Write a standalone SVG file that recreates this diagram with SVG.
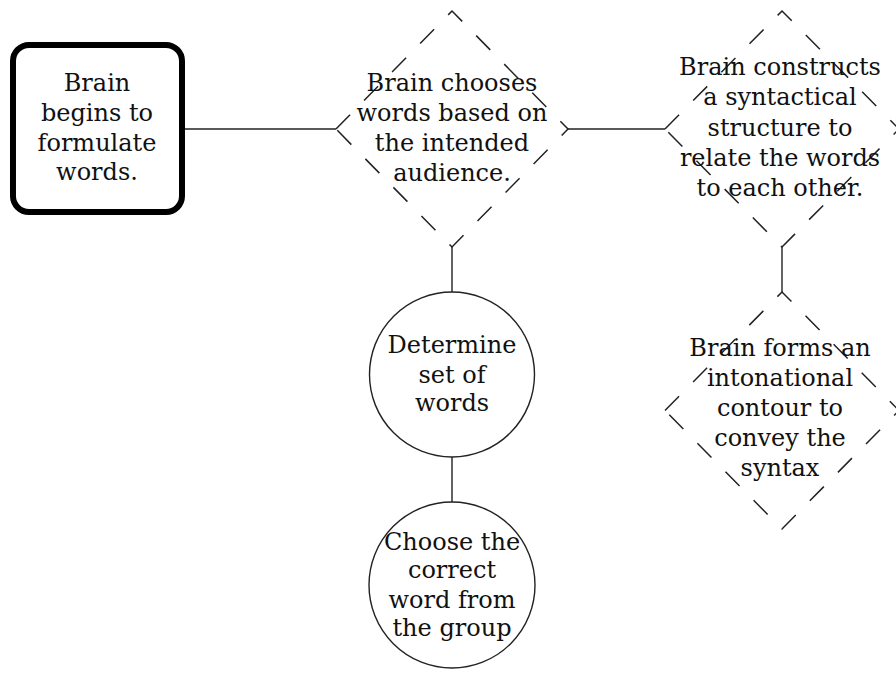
<svg xmlns="http://www.w3.org/2000/svg" width="896" height="673" viewBox="0 0 896 673">
<style>
.t{font-family:"DejaVu Serif","Liberation Serif",serif;font-size:24px;fill:#111;text-anchor:middle}
.dia{fill:none;stroke:#222;stroke-width:1.5;stroke-dasharray:20 20}
.circ{fill:#fff;stroke:#222;stroke-width:1.4}
.box{fill:#fff;stroke:#000;stroke-width:6}
.con line{stroke:#222;stroke-width:1.4}
</style>
<rect width="896" height="673" fill="#fff"/>
<g class="con">
<line x1="185" y1="129" x2="336" y2="129"/>
<line x1="568" y1="129" x2="665" y2="129"/>
<line x1="452" y1="247" x2="452" y2="292"/>
<line x1="452" y1="457" x2="452" y2="502"/>
<line x1="782" y1="247" x2="782" y2="292"/>
</g>
<g id="n1">
<rect class="box" x="13" y="45" width="169" height="167" rx="16"/>
<text class="t"><tspan x="97" y="91">Brain</tspan><tspan x="97" y="121">begins to</tspan><tspan x="97" y="151">formulate</tspan><tspan x="97" y="180">words.</tspan></text>
</g>
<g id="n2">
<path class="dia" d="M336 129 L452 11 L568 129 L452 247 Z"/>
<text class="t"><tspan x="452" y="91">Brain chooses</tspan><tspan x="452" y="121">words based on</tspan><tspan x="452" y="151">the intended</tspan><tspan x="452" y="181">audience.</tspan></text>
</g>
<g id="n3">
<path class="dia" d="M665 129 L782 11 L899 129 L782 247 Z"/>
<text class="t"><tspan x="780" y="75">Brain constructs</tspan><tspan x="780" y="105">a syntactical</tspan><tspan x="780" y="136">structure to</tspan><tspan x="780" y="166">relate the words</tspan><tspan x="780" y="196">to each other.</tspan></text>
</g>
<g id="n4">
<path class="dia" d="M665 410.5 L782 292 L899 410.5 L782 529 Z"/>
<text class="t"><tspan x="780" y="356">Brain forms an</tspan><tspan x="780" y="386">intonational</tspan><tspan x="780" y="416">contour to</tspan><tspan x="780" y="446">convey the</tspan><tspan x="780" y="476">syntax</tspan></text>
</g>
<g id="n5">
<circle class="circ" cx="452" cy="374.5" r="82.5"/>
<text class="t"><tspan x="452" y="353">Determine</tspan><tspan x="452" y="383">set of</tspan><tspan x="452" y="411">words</tspan></text>
</g>
<g id="n6">
<circle class="circ" cx="452" cy="585" r="83"/>
<text class="t"><tspan x="452" y="550">Choose the</tspan><tspan x="452" y="578">correct</tspan><tspan x="452" y="608">word from</tspan><tspan x="452" y="636">the group</tspan></text>
</g>
</svg>
